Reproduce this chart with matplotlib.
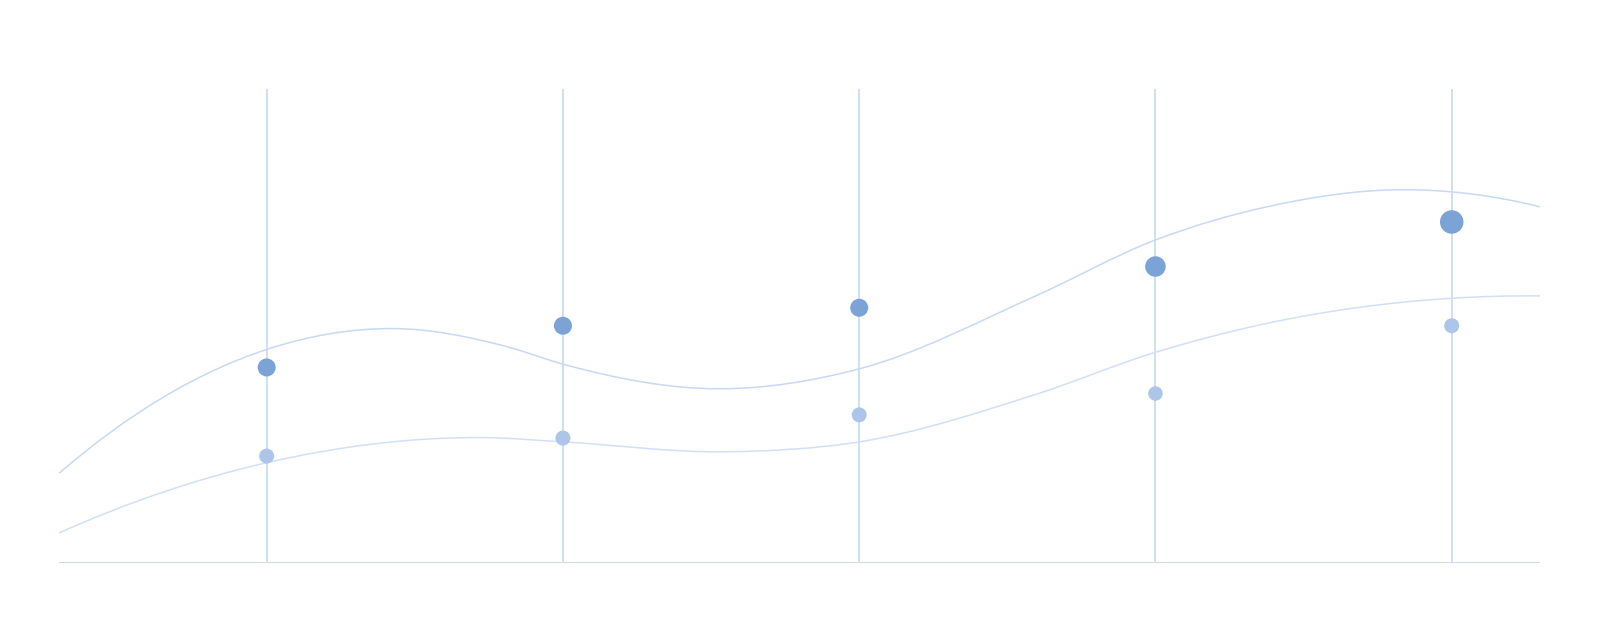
import matplotlib
matplotlib.use("Agg")
import matplotlib.pyplot as plt
from matplotlib.path import Path
from matplotlib.patches import PathPatch
import numpy as np

# categories (positions along x) and the two dot series
categories = [0, 1, 2, 3, 4]
upper_values = [41.2, 50.0, 53.8, 62.5, 71.9]
upper_sizes = [18, 18, 18, 20.5, 23.5]      # dot diameter, px
lower_values = [22.5, 26.3, 31.2, 35.7, 50.0]
lower_sizes = [15, 15, 15, 14.5, 15]

# trend curves
upper_curve_x = [-0.700, 0.0, 0.426, 0.810, 1.0, 1.528, 2.0, 2.596, 3.0, 3.376, 3.836, 4.298]
upper_curve_y = [18.9, 45.0, 49.4, 45.6, 41.9, 36.7, 40.9, 56.3, 68.1, 75.1, 78.7, 75.1]
lower_curve_x = [-0.700, 0.0, 0.730, 1.0, 1.540, 2.0, 2.600, 3.0, 3.376, 4.0, 4.298]
lower_curve_y = [6.3, 21.1, 26.4, 25.5, 23.4, 25.5, 35.6, 44.4, 50.5, 55.8, 56.3]


def smooth_path(xs, ys):
    # cubic Hermite in x through the points, as Bezier segments
    x = np.asarray(xs, float)
    y = np.asarray(ys, float)
    m = np.gradient(y, x, edge_order=2)
    verts = [(x[0], y[0])]
    codes = [Path.MOVETO]
    for i in range(len(x) - 1):
        h = x[i + 1] - x[i]
        verts += [(x[i] + h / 3, y[i] + m[i] * h / 3),
                  (x[i + 1] - h / 3, y[i + 1] - m[i + 1] * h / 3),
                  (x[i + 1], y[i + 1])]
        codes += [Path.CURVE4] * 3
    return Path(verts, codes)


dpi = 100
fig = plt.figure(figsize=(16, 6.22), dpi=dpi)
W, H = 1600, 622
left, right, top, bottom = 59.3, 1540, 88.8, 562.7
ax = fig.add_axes([left / W, 1 - bottom / H, (right - left) / W, (bottom - top) / H])
ax.set_xlim(-0.7, 4.298)
ax.set_ylim(0, 100)
ax.axis("off")

ax.vlines(categories, 0, 100, color="#c4d6f0", lw=1.1, zorder=1)
ax.plot([-0.7, 4.298], [0, 0], color="#cbdbf1", lw=1.4, solid_capstyle="butt", zorder=1)

ax.add_patch(PathPatch(smooth_path(upper_curve_x, upper_curve_y), fill=False,
                       edgecolor="#c8d9f1", lw=1.1, zorder=2))
ax.add_patch(PathPatch(smooth_path(lower_curve_x, lower_curve_y), fill=False,
                       edgecolor="#d2e0f4", lw=1.1, zorder=2))

px2pt = 72 / dpi
ax.scatter(categories, upper_values, s=[(d * px2pt) ** 2 for d in upper_sizes],
           color="#7ba3d6", edgecolors="none", zorder=3)
ax.scatter(categories, lower_values, s=[(d * px2pt) ** 2 for d in lower_sizes],
           color="#acc5e8", edgecolors="none", zorder=3)

fig.savefig("out.png", dpi=dpi, facecolor="white")
